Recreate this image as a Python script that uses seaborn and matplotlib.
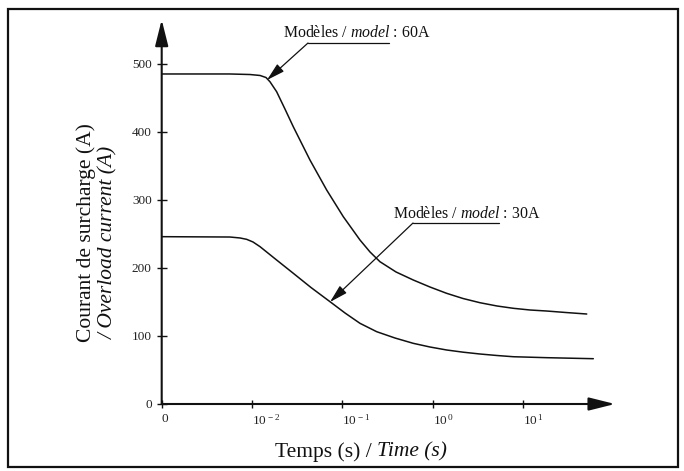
import matplotlib
matplotlib.use("Agg")
import matplotlib.pyplot as plt
import numpy as np
import pandas as pd
import seaborn as sns
from matplotlib.patches import Rectangle

# ---- data (x = log10 of time in seconds; the "0" tick sits at the 10^-3 position) ----
log_time_60A = [-3.0, -2.244, -2.022, -1.911, -1.845, -1.801, -1.727, -1.635, -1.543,
                -1.358, -1.173, -0.989, -0.804, -0.693, -0.583, -0.405, -0.214, -0.029,
                0.156, 0.337, 0.525, 0.713, 0.894, 1.079, 1.264, 1.477, 1.707]
current_60A = [485.2, 485.2, 484.4, 483.0, 480.0, 473.8, 459.1, 433.7, 407.7,
               358.7, 314.6, 275.4, 241.1, 223.5, 209.2, 194.1, 182.3, 172.0,
               162.7, 155.1, 148.9, 144.1, 140.7, 138.2, 136.7, 134.5, 132.3]

log_time_30A = [-3.0, -2.244, -2.133, -2.059, -1.989, -1.911, -1.734, -1.543, -1.347,
                -1.136, -0.970, -0.804, -0.619, -0.416, -0.214, -0.029, 0.156, 0.337,
                0.525, 0.713, 0.894, 1.264, 1.780]
current_30A = [246.0, 245.5, 244.1, 242.1, 238.2, 231.3, 212.4, 192.2, 171.3,
               150.4, 133.8, 118.6, 106.3, 97.0, 89.2, 83.8, 79.4, 76.2,
               73.5, 71.3, 69.5, 68.1, 66.6]

x_ticks = [-3, -2, -1, 0, 1]
x_tick_labels = ["0", r"$10^{\,-2}$", r"$10^{\,-1}$", r"$10^{\,0}$", r"$10^{\,1}$"]
y_ticks = [0, 100, 200, 300, 400, 500]
y_tick_labels = ["0", "100", "200", "300", "400", "500"]

label_60A = r"Modèles / $\mathit{model}$ : 60A"
label_30A = r"Modèles / $\mathit{model}$ : 30A"
xlabel_fr = "Temps (s) /"
xlabel_en = "Time (s)"
ylabel_1 = "Courant de surcharge (A)"
ylabel_2 = "/ Overload current (A)"

# ---- style ----
sns.set_style("white")
plt.rcParams["font.family"] = ["Liberation Serif", "DejaVu Serif"]
plt.rcParams["mathtext.fontset"] = "custom"
plt.rcParams["mathtext.rm"] = "Liberation Serif"
plt.rcParams["mathtext.it"] = "Liberation Serif:italic"
plt.rcParams["mathtext.bf"] = "Liberation Serif:bold"

W, H = 684, 471
fig = plt.figure(figsize=(W / 100, H / 100), dpi=100)
fig.patch.set_facecolor("white")

def fx(px):
    return px / W

def fy(py):
    return 1 - py / H

x0, x1 = 161.7, 615.0
y0, y1 = 404.0, 19.7
ax = fig.add_axes([fx(x0), fy(y0), (x1 - x0) / W, (y0 - y1) / H])
ax.set_facecolor("none")

df = pd.concat([
    pd.DataFrame({"log_time": log_time_60A, "current": current_60A, "model": "60A"}),
    pd.DataFrame({"log_time": log_time_30A, "current": current_30A, "model": "30A"}),
])
sns.lineplot(data=df, x="log_time", y="current", hue="model",
             palette={"60A": "#111111", "30A": "#111111"},
             estimator=None, legend=False, lw=1.1, ax=ax)
for ln in ax.get_lines():
    ln.set_solid_joinstyle("round")

ax.set_xlim(-3, 2.02)
ax.set_ylim(0, 565)
for s in ax.spines.values():
    s.set_visible(False)

# axis arrows
arrow_kw = dict(arrowstyle="-|>,head_length=1.6,head_width=0.4", lw=1.5,
                color="#111111", shrinkA=0, shrinkB=0, mutation_scale=10)
ax.annotate("", xy=(1, 0), xytext=(0, 0), xycoords="axes fraction",
            textcoords="axes fraction", arrowprops=arrow_kw, annotation_clip=False)
ax.annotate("", xy=(0, 1), xytext=(0, 0), xycoords="axes fraction",
            textcoords="axes fraction", arrowprops=arrow_kw, annotation_clip=False)

ax.set_xticks(x_ticks)
ax.set_xticklabels(x_tick_labels)
ax.set_yticks(y_ticks)
ax.set_yticklabels(y_tick_labels)
ax.tick_params(axis="x", direction="inout", length=5.5, width=1, color="#111111",
               pad=4, labelsize=9.5, labelcolor="#222222", bottom=True)
ax.tick_params(axis="y", direction="inout", length=6.5, width=1, color="#111111",
               pad=4, labelsize=9.5, labelcolor="#222222", left=True)
for lbl in ax.get_xticklabels():
    lbl.set_horizontalalignment("left")
ax.set_xlabel("")
ax.set_ylabel("")

# axis labels
fig.text(fx(372), fy(452), xlabel_fr, ha="right", va="center", fontsize=15.5,
         color="#111111")
fig.text(fx(377), fy(452), xlabel_en, ha="left", va="center", fontsize=15.5,
         fontstyle="italic", color="#111111")
fig.text(fx(86.5), fy(233), ylabel_1, ha="center", va="center", rotation=90,
         fontsize=15.5, color="#111111")
fig.text(fx(108.5), fy(242), ylabel_2, ha="center", va="center", rotation=90,
         fontsize=15.5, fontstyle="italic", color="#111111")

# annotations
def px2data(px, py):
    u = -3 + (px - x0) / (x1 - x0) * 5.02
    v = (y0 - py) / (y0 - y1) * 565
    return u, v

ann_kw = dict(arrowstyle="-|>,head_length=1.1,head_width=0.3", lw=0.9,
              color="#111111", shrinkA=0, shrinkB=0, mutation_scale=10)

tx, ty = px2data(283, 37)
ax.text(tx, ty, label_60A, ha="left", va="baseline", fontsize=11.4, color="#111111",
        clip_on=False)
ua, va_ = px2data(308, 43)
ub, _ = px2data(389, 43)
ax.plot([ua, ub], [va_, va_], color="#111111", lw=0.9, clip_on=False)
ut, vt = px2data(267, 80)
ax.annotate("", xy=(ut, vt), xytext=(ua, va_), arrowprops=ann_kw, annotation_clip=False)

tx, ty = px2data(393, 218)
ax.text(tx, ty, label_30A, ha="left", va="baseline", fontsize=11.4, color="#111111",
        clip_on=False)
ua, va_ = px2data(413, 223)
ub, _ = px2data(499, 223)
ax.plot([ua, ub], [va_, va_], color="#111111", lw=0.9, clip_on=False)
ut, vt = px2data(330, 302)
ax.annotate("", xy=(ut, vt), xytext=(ua, va_), arrowprops=ann_kw, annotation_clip=False)

# frame around the figure
fig.patches.append(Rectangle((fx(8), fy(467)), (678 - 8) / W, (467 - 9) / H,
                             transform=fig.transFigure, fill=False,
                             edgecolor="#111111", lw=1.6))

fig.savefig("out.png", dpi=100)
